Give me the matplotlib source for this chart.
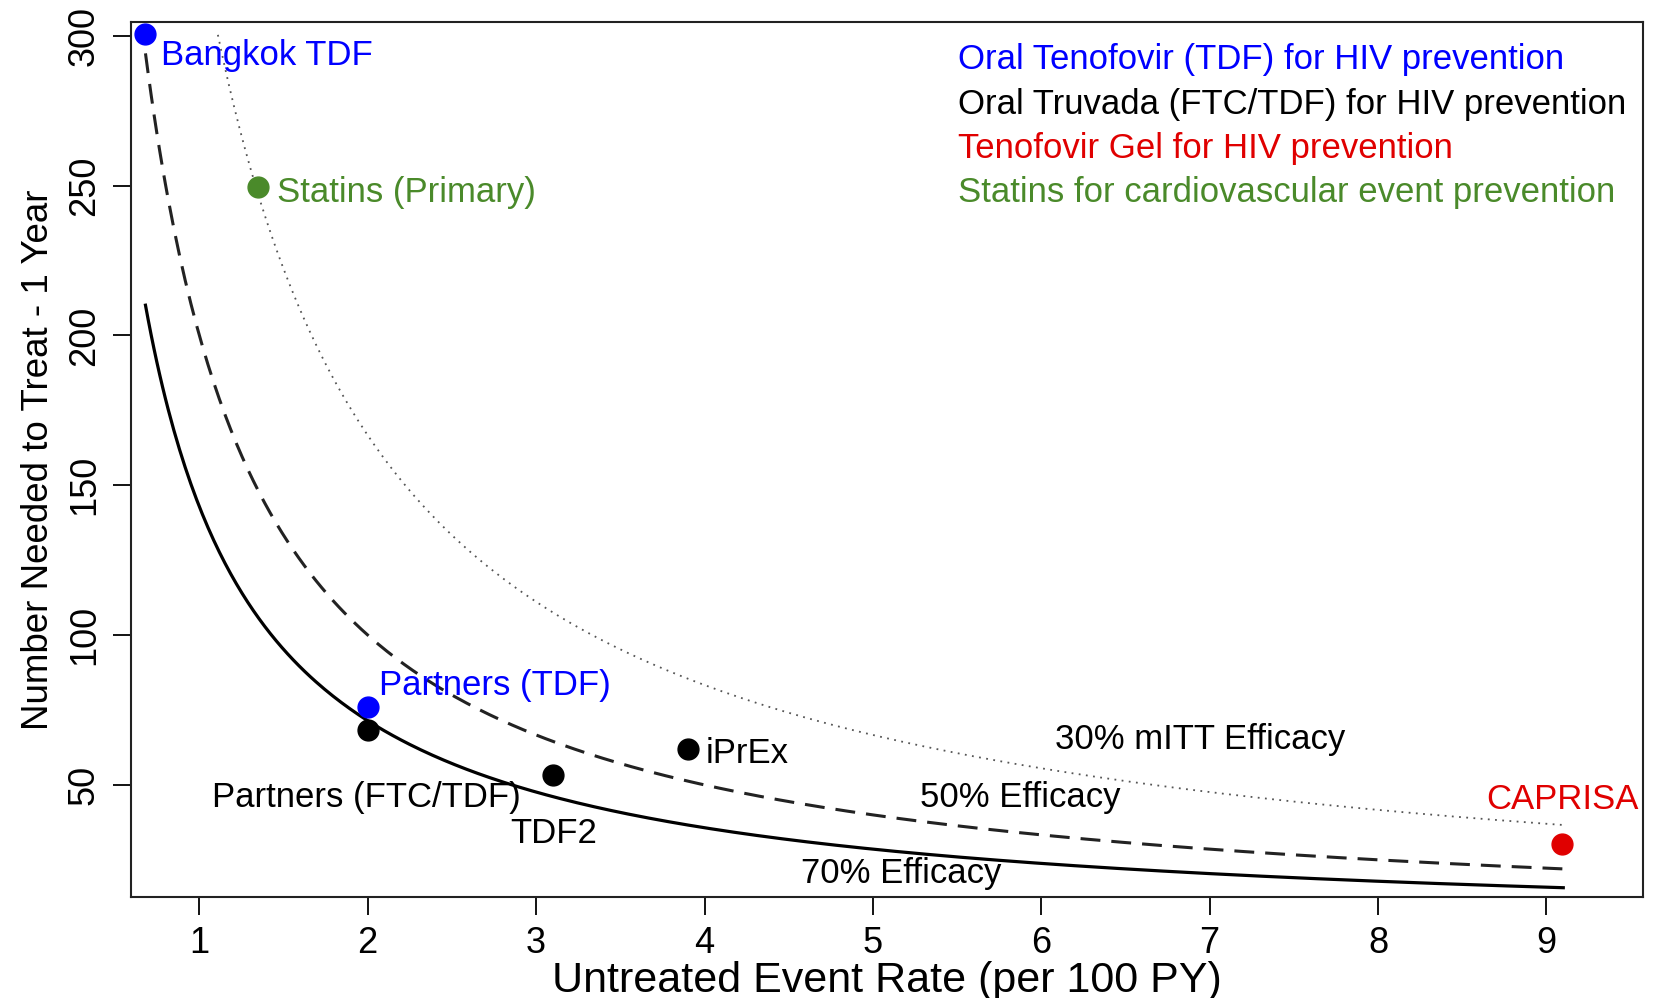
import numpy as np
import matplotlib
matplotlib.use("Agg")
import matplotlib.pyplot as plt

plt.rcParams['font.family'] = ['Liberation Sans', 'DejaVu Sans']

# Reference NNT curves: NNT = 100 / (rate * efficacy)
efficacies = [0.70, 0.50, 0.30]
curve_start = [0.68, 0.68, 1.11]
curve_end = 9.1
curve_labels = ["70% Efficacy", "50% Efficacy", "30% mITT Efficacy"]

# Trial results
trials = ["Bangkok TDF", "Statins (Primary)", "Partners (TDF)",
          "Partners (FTC/TDF)", "TDF2", "iPrEx", "CAPRISA"]
trial_rate = [0.68, 1.35, 2.00, 2.00, 3.10, 3.90, 9.09]
trial_nnt = [300.5, 249.5, 76.0, 68.3, 53.2, 62.0, 30.3]
trial_color = ["#0000ff", "#4a8a2a", "#0000ff", "#000000", "#000000", "#000000", "#e00000"]

legend_text = ["Oral Tenofovir (TDF) for HIV prevention",
               "Oral Truvada (FTC/TDF) for HIV prevention",
               "Tenofovir Gel for HIV prevention",
               "Statins for cardiovascular event prevention"]
legend_color = ["#0000ff", "#000000", "#e00000", "#4a8a2a"]

x_ticks = [1, 2, 3, 4, 5, 6, 7, 8, 9]
y_ticks = [50, 100, 150, 200, 250, 300]

fig = plt.figure(figsize=(16.54, 9.98), dpi=100)
ax = fig.add_axes([0.0792, 0.1012, 0.9141, 0.8768])

styles = [dict(ls='-', lw=2.3, color='black'),
          dict(ls=(0, (6.5, 3.6)), lw=2.2, color='#222222'),
          dict(ls=(0, (1, 3)), lw=1.3, color='#555555')]
for eff, x0, st in zip(efficacies, curve_start, styles):
    xs = np.linspace(x0, curve_end, 500)
    ax.plot(xs, 100.0 / (xs * eff), **st)

for xr, yn, c in zip(trial_rate, trial_nnt, trial_color):
    ax.plot(xr, yn, 'o', ms=15, color=c, mec=c, zorder=5, clip_on=False)

fs = 25
# Trial labels
ax.text(0.77, 293.4, trials[0], color=trial_color[0], fontsize=fs, ha='left', va='center')
ax.text(1.464, 247.6, trials[1], color=trial_color[1], fontsize=fs, ha='left', va='center')
ax.text(2.065, 83.2, trials[2], color=trial_color[2], fontsize=fs, ha='left', va='center')
ax.text(1.99, 45.8, trials[3], color=trial_color[3], fontsize=fs, ha='center', va='center')
ax.text(3.105, 33.9, trials[4], color=trial_color[4], fontsize=fs, ha='center', va='center')
ax.text(4.007, 60.6, trials[5], color=trial_color[5], fontsize=fs, ha='left', va='center')
ax.text(9.095, 45.1, trials[6], color=trial_color[6], fontsize=fs, ha='center', va='center')

# Curve labels
ax.text(5.17, 20.5, curve_labels[0], fontsize=fs, ha='center', va='center')
ax.text(5.875, 45.8, curve_labels[1], fontsize=fs, ha='center', va='center')
ax.text(6.946, 65.2, curve_labels[2], fontsize=fs, ha='center', va='center')

# Colour key
for i, (t, c) in enumerate(zip(legend_text, legend_color)):
    ax.text(5.505, 292.0 - 14.8 * i, t, color=c, fontsize=fs, ha='left', va='center')

ax.set_xlim(0.594, 9.573)
ax.set_ylim(12.6, 304.6)
ax.set_xticks(x_ticks)
ax.set_yticks(y_ticks)
ax.set_yticklabels([str(v) for v in y_ticks], rotation=90, va='center')
ax.tick_params(axis='both', length=13, width=1.3, labelsize=26, pad=8)
for sp in ax.spines.values():
    sp.set_linewidth(1.5)
    sp.set_color('#222222')
ax.set_xlabel("Untreated Event Rate (per 100 PY)", fontsize=31, labelpad=0)
ax.set_ylabel("Number Needed to Treat - 1 Year", fontsize=26.5, labelpad=8)

fig.savefig("out.png", dpi=100)
